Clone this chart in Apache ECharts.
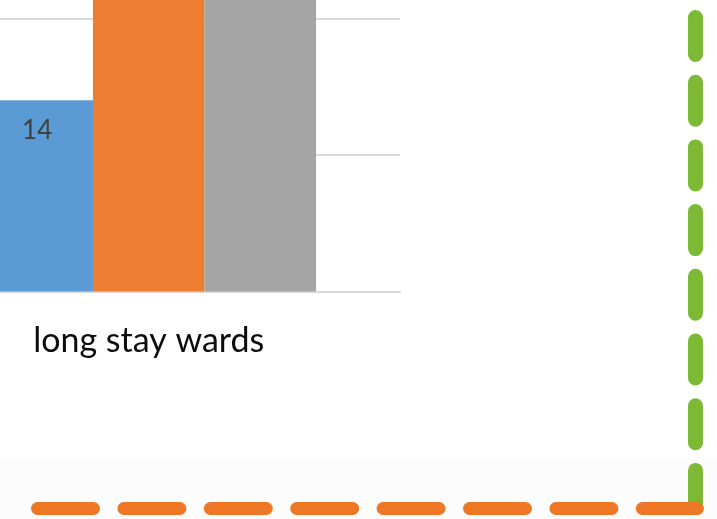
<!DOCTYPE html>
<html>
<head>
<meta charset="utf-8">
<script src="https://cdn.jsdelivr.net/npm/echarts@6/dist/echarts.min.js"></script>
<style>
  html, body { margin: 0; padding: 0; background: #ffffff; overflow: hidden; width: 717px; height: 519px; }
  /* The plot is larger than the window; only its lower-right part is in view */
  #chart { position: absolute; left: -103px; top: -255px; width: 820px; height: 774px; }
</style>
</head>
<body>
<div id="chart"></div>
<script>
// Ward categories and the three series values
const categories = ['long stay wards'];
const seriesNames = ['Series 1', 'Series 2', 'Series 3'];
const seriesA = [14];
const seriesB = [30];
const seriesC = [28];
const seriesColors = ['#5B9BD5', '#ED7D31', '#A5A5A5'];

// Value axis scale
const axisMin = 0;
const axisMax = 40;
const axisStep = 10;

// Offset of the chart canvas relative to the window
const OX = 103;
const OY = 255;

const chart = echarts.init(document.getElementById('chart'), null, { renderer: 'canvas' });

function barSeries(name, values, color) {
  return {
    name: name,
    type: 'bar',
    data: values,
    barGap: '0%',
    barCategoryGap: '33.4%',
    itemStyle: { color: color },
    label: {
      show: true,
      position: 'insideTop',
      distance: 17,
      fontFamily: 'Lato',
      fontSize: 26,
      color: '#404040'
    }
  };
}

chart.setOption({
  backgroundColor: '#ffffff',
  animation: false,
  grid: {
    left: 0.5,
    width: 502.5,
    top: 0,
    bottom: 227.5,
    containLabel: false
  },
  xAxis: {
    type: 'category',
    data: categories,
    axisLine: { show: true, lineStyle: { color: '#D9D9D9', width: 2 } },
    axisTick: { show: false },
    axisLabel: {
      margin: 33,
      fontFamily: 'Lato',
      fontSize: 34,
      color: '#0d0d0d'
    }
  },
  yAxis: {
    type: 'value',
    min: axisMin,
    max: axisMax,
    interval: axisStep,
    axisLine: { show: false },
    axisTick: { show: false },
    axisLabel: { show: false },
    splitLine: { show: true, lineStyle: { color: '#D9D9D9', width: 2 } }
  },
  series: [
    barSeries(seriesNames[0], seriesA, seriesColors[0]),
    barSeries(seriesNames[1], seriesB, seriesColors[1]),
    barSeries(seriesNames[2], seriesC, seriesColors[2])
  ],
  graphic: [
    {
      // faint off-white panel along the bottom
      type: 'rect',
      shape: { x: OX, y: 458 + OY, width: 717, height: 61 },
      style: { fill: '#fcfcfc' },
      z: -1,
      silent: true
    },
    {
      type: 'line',
      shape: { x1: 695.5 + OX, y1: 17.5 + OY, x2: 695.5 + OX, y2: 505.5 + OY },
      style: { stroke: '#7DB935', lineWidth: 15, lineCap: 'round', lineDash: [37, 27.7] },
      z: 10
    },
    {
      type: 'line',
      shape: { x1: 37.5 + OX, y1: 508.5 + OY, x2: 697.5 + OX, y2: 508.5 + OY },
      style: { stroke: '#EE7726', lineWidth: 13, lineCap: 'round', lineDash: [56, 30.4] },
      z: 11
    }
  ]
});
</script>
</body>
</html>
